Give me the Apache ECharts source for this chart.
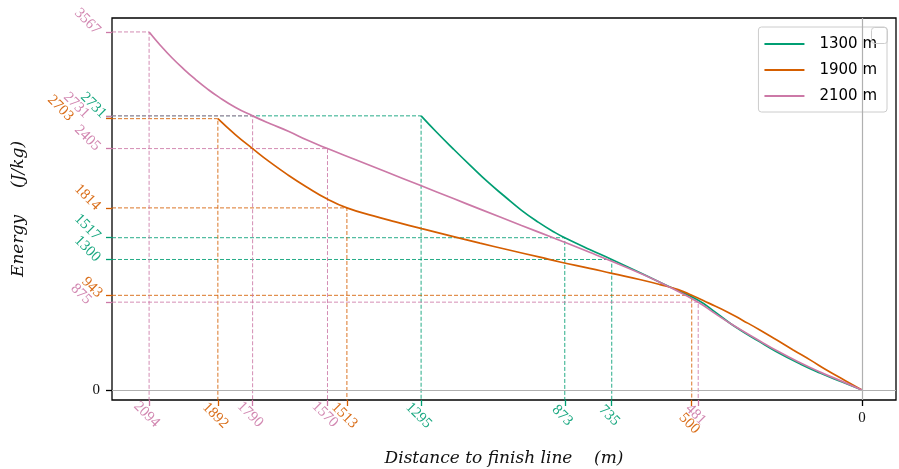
<!DOCTYPE html>
<html><head><meta charset="utf-8">
<script src="https://cdn.jsdelivr.net/npm/echarts@6/dist/echarts.min.js"></script>
<style>html,body{margin:0;padding:0;background:#fff}#c{width:899px;height:469px}</style>
</head><body><div id="c"></div>
<script>
// ---- data ----
const seriesNames = ['1300 m', '1900 m', '2100 m'];

const dist1300 = [1295,1250,1200,1150,1100,1050,1000,950,900,873,800,735,650,564,481,430,378,300,251,180,123,60,0];
const energy1300 = [2731,2570,2400,2235,2075,1930,1790,1670,1565,1517,1400,1300,1165,1025,895,773,643,479,381,257,169,81,0];

const dist1900 = [1892,1840,1790,1740,1685,1630,1572,1513,1435,1370,1293,1200,1122,1040,946,887,800,735,650,593,540,500,450,397,350,300,250,202,150,104,50,0];
const energy1900 = [2703,2542,2405,2272,2140,2020,1905,1814,1735,1675,1607,1528,1463,1397,1323,1275,1212,1162,1098,1050,1000,943,865,780,693,598,497,399,295,199,95,0];

const dist2100 = [2094,2060,2027,1990,1958,1925,1890,1840,1790,1740,1685,1630,1570,1489,1400,1298,1200,1122,1000,907,873,800,735,650,564,481,430,378,300,251,180,123,60,0];
const energy2100 = [3567,3430,3310,3190,3095,3005,2920,2815,2731,2655,2578,2490,2405,2296,2176,2039,1907,1802,1639,1517,1471,1372,1282,1160,1023,875,758,645,488,392,268,178,88,0];

// key points (tick labels)
const key1300Dist = [1295, 873, 735];
const key1300Energy = [2731, 1517, 1300];
const key1900Dist = [1892, 1513, 500];
const key1900Energy = [2703, 1814, 943];
const key2100Dist = [2094, 1790, 1570, 481];
const key2100Energy = [3567, 2731, 2405, 875];
const originTick = [0];

// ---- style ----
const GREEN = '#009e73', ORANGE = '#d55e00', PINK = '#cc79a7';
const X_MIN = -100, X_MAX = 2203, Y_MIN = -100, Y_MAX = 3706;
const TICK_FONT = 'Liberation Serif';
const TICK_SIZE = 15;
function rgba(hex, a) {
  const n = parseInt(hex.slice(1), 16);
  return `rgba(${(n>>16)&255},${(n>>8)&255},${n&255},${a})`;
}
const zip = (a, b) => a.map((v, i) => [v, b[i]]);

const xBase = () => ({type:'value', min:X_MIN, max:X_MAX, inverse:true, position:'bottom', gridIndex:0,
  splitLine:{show:false}, axisLine:{show:false, onZero:false}, axisTick:{show:false}, axisLabel:{show:false}});
const yBase = () => ({type:'value', min:Y_MIN, max:Y_MAX, position:'left', gridIndex:0,
  splitLine:{show:false}, axisLine:{show:false, onZero:false}, axisTick:{show:false}, axisLabel:{show:false}});

const xAxes = [Object.assign(xBase(), {
  name:'Distance to finish line    (m)', nameLocation:'middle', nameGap:50,
  nameTextStyle:{fontFamily:'DejaVu Serif', fontStyle:'italic', fontSize:17, color:'#111'}
})];
const yAxes = [Object.assign(yBase(), {
  name:'Energy     (J/kg)', nameLocation:'middle', nameGap:85, nameRotate:90,
  nameTextStyle:{fontFamily:'DejaVu Serif', fontStyle:'italic', fontSize:17, color:'#111'}
})];

function xTicks(vals, color) {
  const a = xBase(); a.axisTick = {show:true, customValues:vals, length:6, lineStyle:{color, width:1.3}}; xAxes.push(a);
}
function yTicks(vals, color) {
  const a = yBase(); a.axisTick = {show:true, customValues:vals, length:6, lineStyle:{color, width:1.3}}; yAxes.push(a);
}
function xLabels(vals, color, margin) {
  const a = xBase();
  a.axisLabel = {show:true, customValues:vals, rotate:-45, align:'center', verticalAlign:'middle', margin,
    padding:[7,7,0,0], color:rgba(color,0.9), fontFamily:TICK_FONT, fontSize:TICK_SIZE, formatter:v => String(v)};
  xAxes.push(a);
}
function yLabels(vals, color, margin) {
  const a = yBase();
  a.axisLabel = {show:true, customValues:vals, rotate:-45, align:'right', verticalAlign:'middle', margin,
    color:rgba(color,0.9), fontFamily:TICK_FONT, fontSize:TICK_SIZE, formatter:v => String(v)};
  yAxes.push(a);
}

// x ticks & labels
xTicks(key1300Dist, GREEN); xTicks(key1900Dist, ORANGE); xTicks(key2100Dist, PINK); xTicks(originTick, '#000');
xLabels(key1300Dist, GREEN, 18);
xLabels(key1900Dist.filter(v => v !== 500), ORANGE, 18);
xLabels(key1900Dist.filter(v => v === 500), ORANGE, 26);
xLabels(key2100Dist, PINK, 17);
(function(){ const a = xBase(); a.axisLabel = {show:true, customValues:originTick, rotate:0, align:'center', verticalAlign:'top', margin:11,
  color:'#111', fontFamily:TICK_FONT, fontSize:TICK_SIZE, formatter:v => String(v)}; xAxes.push(a); })();

// y ticks & labels
yTicks(key1300Energy, GREEN); yTicks(key1900Energy, ORANGE); yTicks(key2100Energy, PINK); yTicks(originTick, '#000');
yLabels(key1300Energy.filter(v => v !== 2731), GREEN, 14);
yLabels(key1300Energy.filter(v => v === 2731), GREEN, 8);
yLabels(key1900Energy.filter(v => v === 1814), ORANGE, 14);
yLabels(key1900Energy.filter(v => v === 943), ORANGE, 12);
yLabels(key1900Energy.filter(v => v === 2703), ORANGE, 41);
yLabels(key2100Energy.filter(v => v === 3567 || v === 2405), PINK, 14);
yLabels(key2100Energy.filter(v => v === 2731), PINK, 25);
yLabels(key2100Energy.filter(v => v === 875), PINK, 23);
(function(){ const a = yBase(); a.axisLabel = {show:true, customValues:originTick, rotate:0, align:'right', verticalAlign:'middle', margin:12,
  color:'#111', fontFamily:TICK_FONT, fontSize:TICK_SIZE, formatter:v => String(v)}; yAxes.push(a); })();

// guide lines
const series = [];
function guides(dists, energies, color) {
  dists.forEach((d, i) => {
    series.push({type:'line', silent:true, symbol:'none', z:1, animation:false,
      data:[[X_MAX, energies[i]], [d, energies[i]], [d, Y_MIN]],
      lineStyle:{color:rgba(color,0.85), width:1, type:[4,2]}});
  });
}
guides(key1300Dist, key1300Energy, GREEN);
guides(key1900Dist, key1900Energy, ORANGE);
guides(key2100Dist, key2100Energy, PINK);

const mainSeries = [[dist1300, energy1300, GREEN], [dist1900, energy1900, ORANGE], [dist2100, energy2100, PINK]];
mainSeries.forEach(([d, e, c], i) => {
  series.push({type:'line', name:seriesNames[i], data:zip(d, e), symbol:'none', smooth:0.5, z:3, animation:false,
    lineStyle:{color:c, width:1.7}, itemStyle:{color:c},
    markLine: i === 0 ? {silent:true, symbol:['none','none'], animation:false, label:{show:false},
      lineStyle:{color:'#b0b0b0', width:1.2, type:'solid'}, data:[{yAxis:0}, {xAxis:0}]} : undefined});
});

const chart = echarts.init(document.getElementById('c'), null, {renderer:'canvas'});
chart.setOption({
  animation:false,
  grid:{left:112, right:3, top:18, bottom:69, outerBoundsMode:'none', containLabel:false, show:true, borderColor:'#000', borderWidth:1.3, backgroundColor:'transparent'},
  xAxis:xAxes, yAxis:yAxes,
  legend:{data:seriesNames, orient:'vertical', right:12, top:27, icon:'rect', itemWidth:40, itemHeight:2, itemGap:10,
    padding:[9,10,8,6], borderColor:'#ccc', borderWidth:1, borderRadius:3, backgroundColor:'rgba(255,255,255,0.85)',
    textStyle:{fontFamily:'DejaVu Sans', fontSize:15, lineHeight:16, color:'#000', padding:[0,0,0,10]}},
  graphic:[{type:'rect', right:11, top:27, z:100, shape:{width:16, height:16, r:3}, style:{fill:'transparent', stroke:'#ccc', lineWidth:1}}],
  series
});
</script></body></html>
